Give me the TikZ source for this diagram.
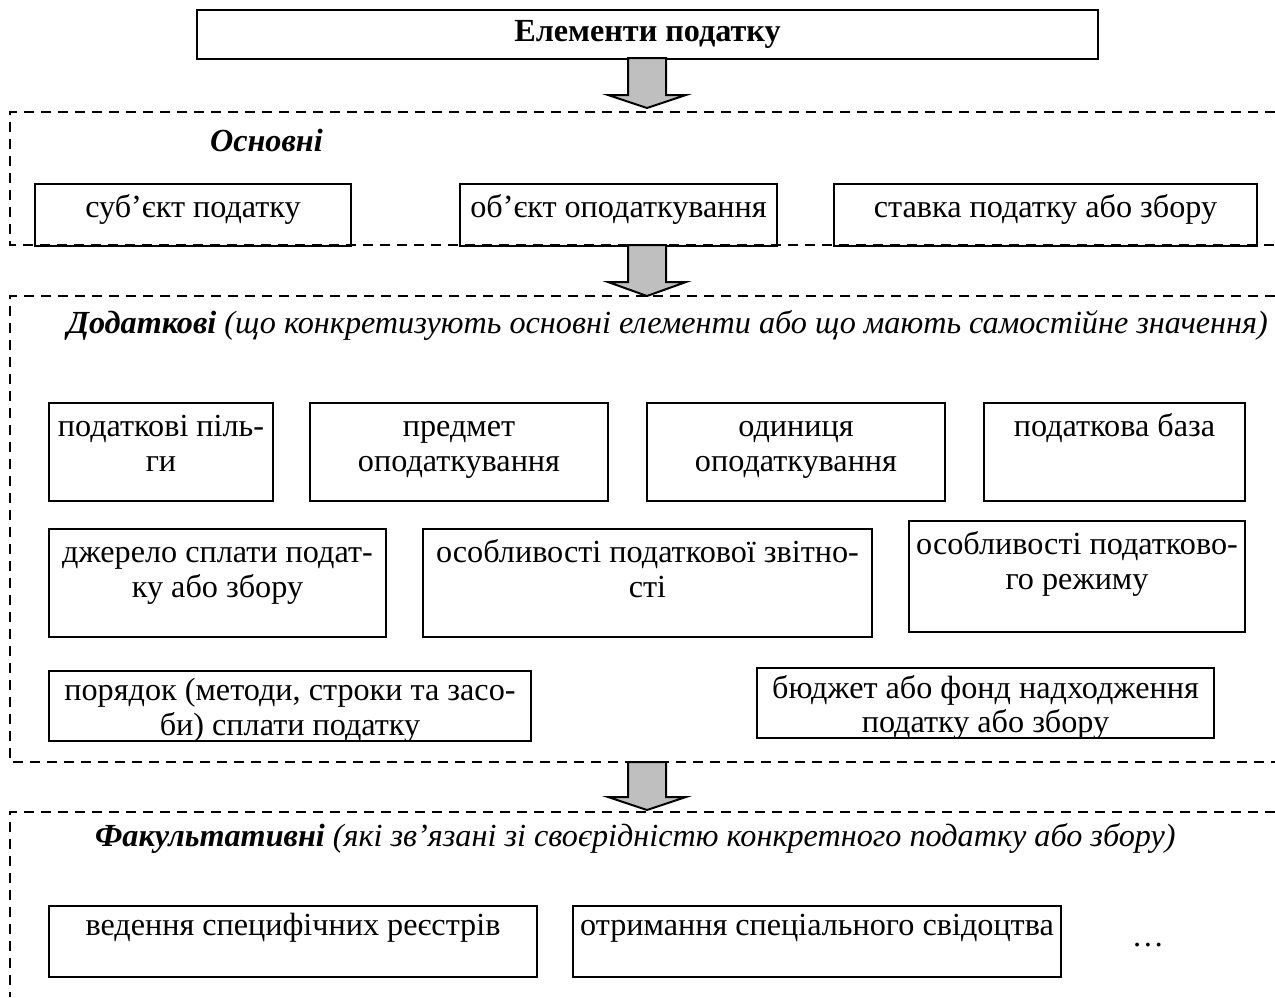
\documentclass[tikz,border=0pt]{standalone}
\usepackage{fontspec}
\setmainfont{Liberation Serif}
\usetikzlibrary{positioning}
% box with its text set at the top: [extra label style], name, x1, y1, x2, y2, text
\newcommand{\elbox}[7][]{%
  \node[box,minimum width={(#5-#3)*0.5pt},minimum height={(#6-#4)*0.5pt}] (#2) at (#3,#4) {};
  \node[lbl,#1] (#2-t) at (#2.north) {\strut #7};}
% grey block arrow: name, top, base of head, tip
\newcommand{\blockarr}[4]{%
  \coordinate (#1) at (647,#4);
  \draw[blockarrow] (628,#2) -- (666,#2) -- (666,#3) -- (686,#3) -- (#1) -- (608,#3) -- (628,#3) -- cycle;}

\begin{document}
\begin{tikzpicture}[x=0.5pt,y=-0.5pt,
  every node/.style={font=\fontsize{16.1}{17.5}\selectfont},
  box/.style={draw,line width=1pt,anchor=north west,inner sep=0pt},
  lbl/.style={anchor=north,align=center,inner sep=0pt,yshift=-4.75pt},
  tight/.style={font=\fontsize{16.1}{16}\selectfont,yshift=0.95pt},
  raised/.style={yshift=2pt},
  frame/.style={draw,line width=0.9pt,dash pattern=on 5pt off 3.5pt},
  blockarrow/.style={draw,line width=1pt,fill=gray!50}]
\useasboundingbox (0,0) rectangle (1275,997);

\node[box,minimum width={901*0.5pt},minimum height={49*0.5pt}] (title) at (196,9) {\textbf{Елементи податку}};

% basic
\blockarr{a1}{58}{95}{108}
\draw[frame] (1275,112) -| (10,245) -- (1275,245);
\node[anchor=west] (osn) at (203,140) {\textbf{\textit{Основні}}};
\elbox{subj}{34}{183}{350}{245}{суб’єкт податку}
\elbox{obj}{459}{183}{776}{245}{об’єкт оподаткування}
\elbox{rate}{833}{183}{1256}{245}{ставка податку або збору}

% additional
\blockarr{a2}{245}{282}{296}
\draw[frame] (1275,296) -| (10,762) -- (1275,762);
\node[anchor=west] (dod) at (60,325) {\textbf{\textit{Додаткові}} \textit{(що конкретизують основні елементи або що мають самостійне значення)}};
\elbox{pilgy}{48}{402}{272}{500}{податкові піль-\\ги}
\elbox{predmet}{309}{402}{607}{500}{предмет\\оподаткування}
\elbox{odyn}{646}{402}{944}{500}{одиниця\\оподаткування}
\elbox{baza}{983}{402}{1244}{500}{податкова база}
\elbox{dzherelo}{48}{528}{385}{636}{джерело сплати подат-\\ку або збору}
\elbox{zvit}{422}{528}{871}{636}{особливості податкової звітно-\\сті}
\elbox{rezhym}{908}{520}{1244}{631}{особливості податково-\\го режиму}
\elbox[tight]{poryadok}{48}{670}{530}{740}{порядок (методи, строки та засо-\\би) сплати податку}
\elbox[tight]{budzhet}{756}{667}{1213}{737}{бюджет або фонд надходження\\податку або збору}

% optional
\blockarr{a3}{762}{797}{810}
\draw[frame] (1275,812) -| (10,997);
\node[anchor=west] (fak) at (88,838) {\textbf{\textit{Факультативні}} \textit{(які зв’язані зі своєрідністю конкретного податку або збору)}};
\elbox[raised]{reyestr}{48}{905}{536}{976}{ведення специфічних реєстрів}
\elbox[raised]{svid}{572}{905}{1060}{976}{отримання спеціального свідоцтва}
\node (dots) at (1148,945) {\dots};
\end{tikzpicture}
\end{document}
